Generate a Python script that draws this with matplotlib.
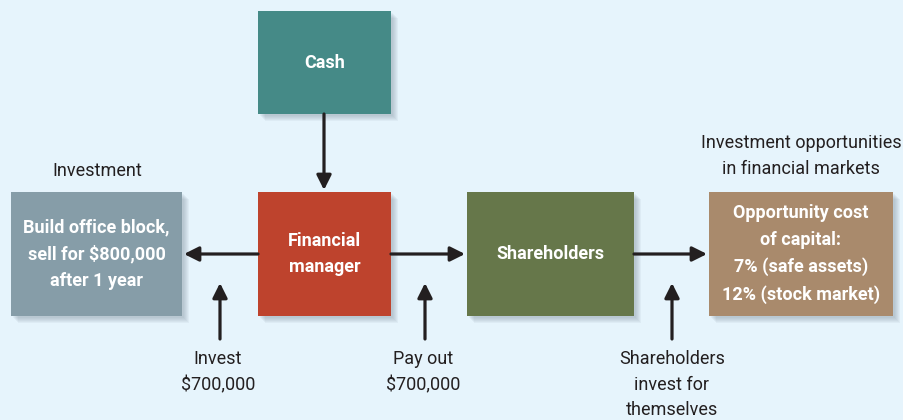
import matplotlib.pyplot as plt
from matplotlib.patches import Rectangle

# box labels, colours and pixel extents (x0, y0, x1, y1)
box_names = ['Cash', 'Financial\nmanager', 'Build office block,\nsell for $800,000\nafter 1 year',
             'Shareholders', 'Opportunity cost\nof capital:\n7% (safe assets)\n12% (stock market)']
box_colors = ['#458A87', '#BE432D', '#869DA8', '#66774A', '#A98A6C']
box_extents = [(258, 11, 391, 114), (258, 192, 391, 316), (11, 192, 182, 316),
               (467, 192, 634, 316), (709, 192, 893, 316)]

# flows between boxes: (start, end)
flow_arrows = [((324, 114), (324, 190)), ((258, 254), (184, 254)),
               ((391, 254), (465, 254)), ((634, 254), (707, 254))]
up_arrows = [((220, 339), (220, 283)), ((425, 339), (425, 283)), ((672, 339), (672, 283))]

# free labels
side_labels = ['Investment', 'Investment opportunities\nin financial markets',
               'Invest\n$700,000', 'Pay out\n$700,000', 'Shareholders\ninvest for\nthemselves']
side_pos = [(97, 162), (801, 134), (218, 350), (423, 350), (672, 350)]

bg = '#E6F4FC'
ink = '#231F20'
plt.rcParams['font.family'] = ['Roboto', 'DejaVu Sans']

fig = plt.figure(figsize=(9.04, 4.2), dpi=100, facecolor=bg)
ax = fig.add_axes([0, 0, 1, 1])
ax.set_facecolor(bg)
ax.set_xlim(0, 904)
ax.set_ylim(420, 0)
ax.axis('off')

for name, col, (x0, y0, x1, y1) in zip(box_names, box_colors, box_extents):
    # soft drop shadow
    for k in range(6):
        off = 2 + k
        ax.add_patch(Rectangle((x0 + off, y0 + off), x1 - x0, y1 - y0,
                               color='#6E7F8C', alpha=0.07, lw=0, zorder=1))
    ax.add_patch(Rectangle((x0, y0), x1 - x0, y1 - y0, color=col, lw=0, zorder=2))
    ax.text((x0 + x1) / 2, (y0 + y1) / 2, name, color='white', fontsize=13,
            fontweight='bold', ha='center', va='center', linespacing=1.6, zorder=3)

for (sx, sy), (ex, ey) in flow_arrows + up_arrows:
    ax.annotate('', xy=(ex, ey), xytext=(sx, sy),
                arrowprops=dict(arrowstyle='-|>', color=ink, lw=2.3,
                                mutation_scale=22, shrinkA=0, shrinkB=0), zorder=4)

for txt, (x, y) in zip(side_labels, side_pos):
    ax.text(x, y, txt, color=ink, fontsize=13, ha='center', va='top', linespacing=1.55)

fig.savefig('out.png', dpi=100, facecolor=bg)
